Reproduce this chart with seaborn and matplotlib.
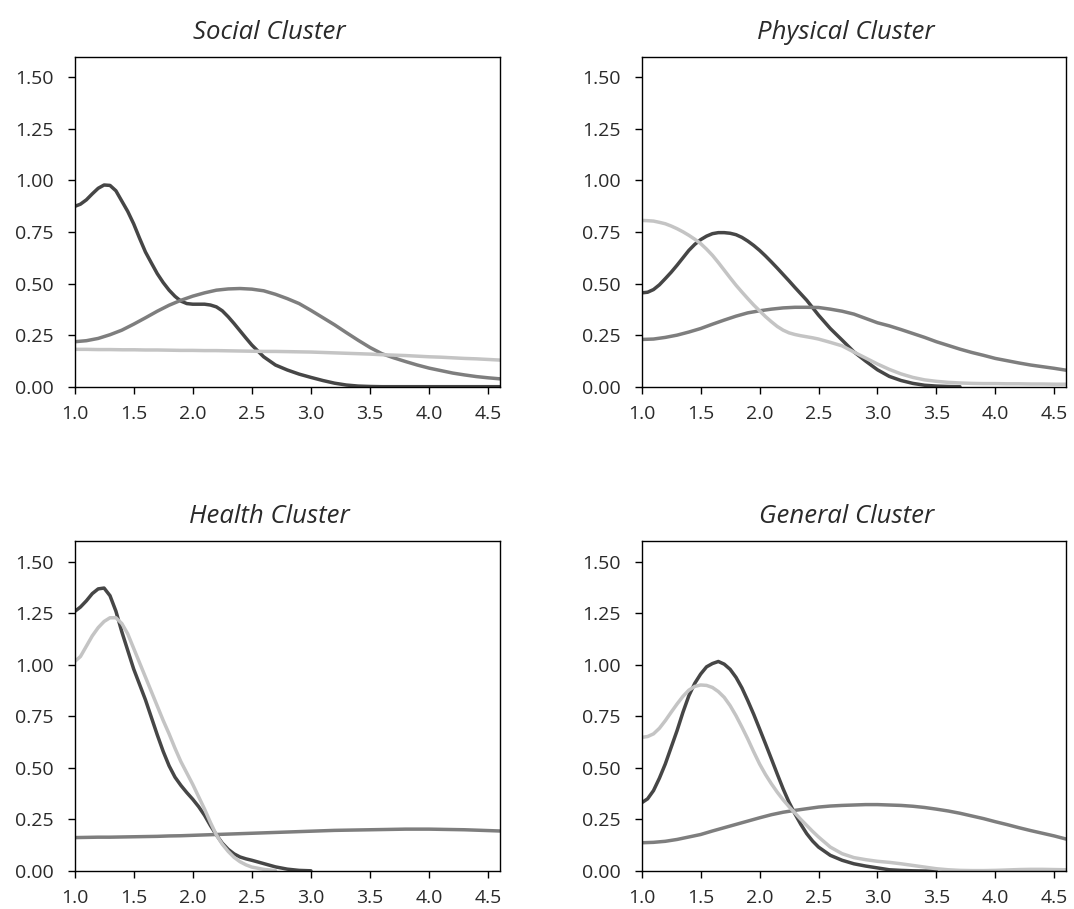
import matplotlib
matplotlib.use("Agg")
import matplotlib.pyplot as plt
import pandas as pd
import seaborn as sns

# sampling grids
X_GRID = [1.0, 1.1, 1.2, 1.3, 1.4, 1.5, 1.6, 1.7, 1.8, 1.9,
          2.0, 2.1, 2.2, 2.3, 2.4, 2.5, 2.6, 2.7, 2.8, 2.9,
          3.0, 3.1, 3.2, 3.3, 3.4, 3.5, 3.6, 3.7, 3.8, 3.9,
          4.0, 4.1, 4.2, 4.3, 4.4, 4.5, 4.6]
# finer steps on the left half for the peaked curves
X_FINE = [1.0, 1.05, 1.1, 1.15, 1.2, 1.25, 1.3, 1.35, 1.4, 1.45,
          1.5, 1.55, 1.6, 1.65, 1.7, 1.75, 1.8, 1.85, 1.9, 1.95,
          2.0, 2.05, 2.1, 2.15, 2.2, 2.25, 2.3, 2.35, 2.4, 2.45,
          2.5, 2.6, 2.7, 2.8, 2.9, 3.0, 3.1, 3.2, 3.3, 3.4,
          3.5, 3.6, 3.7, 3.8, 3.9, 4.0, 4.1, 4.2, 4.3, 4.4,
          4.5, 4.6]

TITLES = ["Social Cluster", "Physical Cluster", "Health Cluster", "General Cluster"]
GROUPS = ["dark", "mid", "light"]
GROUP_COLORS = {"dark": "#464646", "mid": "#7e7e7e", "light": "#c4c4c4"}

X_TICKS = [1.0, 1.5, 2.0, 2.5, 3.0, 3.5, 4.0, 4.5]
Y_TICKS = [0.0, 0.25, 0.50, 0.75, 1.00, 1.25, 1.50]

# Social cluster
social_dark = [0.874, 0.885, 0.906, 0.935, 0.962, 0.978, 0.976, 0.950, 0.900, 0.850,
               0.790, 0.720, 0.653, 0.600, 0.548, 0.505, 0.468, 0.438, 0.415, 0.403,
               0.400, 0.400, 0.400, 0.396, 0.387, 0.368, 0.339, 0.306, 0.271, 0.236,
               0.202, 0.145, 0.105, 0.081, 0.061, 0.045, 0.030, 0.017, 0.008, 0.003,
               0.001, 0.0, 0.0, 0.0, 0.0, 0.0, 0.0, 0.0, 0.0, 0.0,
               0.0, 0.0]
social_mid = [0.218, 0.223, 0.234, 0.252, 0.274, 0.303, 0.334, 0.366, 0.395, 0.419,
              0.439, 0.455, 0.468, 0.474, 0.476, 0.473, 0.465, 0.448, 0.427, 0.403,
              0.370, 0.335, 0.300, 0.262, 0.225, 0.190, 0.160, 0.140, 0.122, 0.105,
              0.090, 0.078, 0.066, 0.057, 0.049, 0.043, 0.038]
social_light = [0.181, 0.181, 0.180, 0.180, 0.179, 0.179, 0.178, 0.178, 0.177, 0.176,
                0.176, 0.175, 0.175, 0.174, 0.173, 0.172, 0.171, 0.171, 0.170, 0.169,
                0.168, 0.166, 0.164, 0.162, 0.160, 0.158, 0.155, 0.153, 0.151, 0.148,
                0.145, 0.143, 0.140, 0.137, 0.135, 0.132, 0.129]

# Physical cluster
physical_dark = [0.455, 0.458, 0.471, 0.494, 0.524, 0.555, 0.589, 0.625, 0.661, 0.690,
                 0.713, 0.730, 0.742, 0.747, 0.747, 0.744, 0.737, 0.724, 0.706, 0.685,
                 0.661, 0.634, 0.605, 0.575, 0.544, 0.513, 0.481, 0.450, 0.419, 0.383,
                 0.347, 0.282, 0.226, 0.169, 0.124, 0.082, 0.050, 0.030, 0.016, 0.007,
                 0.003, 0.001, 0.0]
physical_mid = [0.229, 0.231, 0.239, 0.250, 0.265, 0.282, 0.303, 0.323, 0.342, 0.358,
                0.368, 0.376, 0.382, 0.385, 0.385, 0.384, 0.376, 0.366, 0.352, 0.331,
                0.310, 0.295, 0.277, 0.258, 0.239, 0.218, 0.200, 0.182, 0.166, 0.152,
                0.137, 0.126, 0.115, 0.105, 0.097, 0.089, 0.080]
physical_light = [0.806, 0.805, 0.803, 0.797, 0.790, 0.779, 0.766, 0.751, 0.734, 0.715,
                  0.694, 0.667, 0.637, 0.602, 0.565, 0.528, 0.492, 0.459, 0.427, 0.396,
                  0.368, 0.340, 0.315, 0.292, 0.274, 0.261, 0.253, 0.247, 0.242, 0.237,
                  0.231, 0.215, 0.198, 0.168, 0.139, 0.110, 0.084, 0.062, 0.045, 0.033,
                  0.026, 0.021, 0.018, 0.016, 0.015, 0.015, 0.014, 0.014, 0.013, 0.013,
                  0.012, 0.012]

# Health cluster
health_dark = [1.258, 1.280, 1.310, 1.345, 1.368, 1.372, 1.335, 1.260, 1.160, 1.070,
               0.980, 0.905, 0.830, 0.745, 0.660, 0.580, 0.510, 0.455, 0.415, 0.380,
               0.348, 0.312, 0.270, 0.220, 0.175, 0.135, 0.105, 0.083, 0.068, 0.059,
               0.052, 0.036, 0.020, 0.009, 0.003, 0.001]
health_mid = [0.162, 0.163, 0.164, 0.164, 0.165, 0.166, 0.167, 0.168, 0.170, 0.171,
              0.173, 0.175, 0.177, 0.179, 0.181, 0.183, 0.185, 0.187, 0.189, 0.191,
              0.193, 0.195, 0.197, 0.198, 0.199, 0.200, 0.201, 0.202, 0.203, 0.203,
              0.203, 0.202, 0.201, 0.200, 0.198, 0.196, 0.194]
health_light = [1.015, 1.040, 1.090, 1.140, 1.180, 1.210, 1.228, 1.228, 1.200, 1.150,
                1.080, 1.010, 0.940, 0.870, 0.800, 0.730, 0.665, 0.595, 0.530, 0.475,
                0.420, 0.360, 0.300, 0.235, 0.175, 0.130, 0.095, 0.066, 0.045, 0.030,
                0.019, 0.008, 0.002]

# General cluster
general_dark = [0.331, 0.350, 0.390, 0.450, 0.519, 0.600, 0.681, 0.770, 0.850, 0.910,
                0.955, 0.990, 1.006, 1.016, 1.003, 0.978, 0.939, 0.888, 0.826, 0.760,
                0.689, 0.617, 0.544, 0.470, 0.398, 0.333, 0.277, 0.226, 0.181, 0.145,
                0.116, 0.076, 0.052, 0.035, 0.024, 0.015, 0.006, 0.003, 0.001, 0.0,
                0.0]
general_mid = [0.137, 0.139, 0.144, 0.153, 0.165, 0.177, 0.194, 0.210, 0.226, 0.242,
               0.258, 0.273, 0.285, 0.294, 0.302, 0.310, 0.315, 0.318, 0.320, 0.322,
               0.322, 0.320, 0.318, 0.314, 0.308, 0.300, 0.291, 0.280, 0.267, 0.254,
               0.239, 0.225, 0.210, 0.196, 0.183, 0.170, 0.155]
general_light = [0.648, 0.652, 0.665, 0.692, 0.729, 0.770, 0.810, 0.847, 0.877, 0.895,
                 0.902, 0.900, 0.890, 0.870, 0.842, 0.802, 0.753, 0.698, 0.640, 0.578,
                 0.519, 0.468, 0.423, 0.382, 0.345, 0.312, 0.281, 0.250, 0.221, 0.192,
                 0.165, 0.116, 0.084, 0.065, 0.055, 0.047, 0.042, 0.035, 0.027, 0.019,
                 0.011, 0.006, 0.003, 0.002, 0.002, 0.003, 0.005, 0.007, 0.008, 0.008,
                 0.007, 0.006]

# (values, x grid) for dark, mid, light in each panel
PANEL_SERIES = [
    [(social_dark, X_FINE), (social_mid, X_GRID), (social_light, X_GRID)],
    [(physical_dark, X_FINE), (physical_mid, X_GRID), (physical_light, X_FINE)],
    [(health_dark, X_FINE), (health_mid, X_GRID), (health_light, X_FINE)],
    [(general_dark, X_FINE), (general_mid, X_GRID), (general_light, X_FINE)],
]


def panel_frame(series):
    rows = []
    for group, (values, grid) in zip(GROUPS, series):
        for x, y in zip(grid, values):
            rows.append({"x": x, "density": y, "group": group})
    return pd.DataFrame(rows)


sns.set_theme(style="ticks")
plt.rcParams["font.family"] = ["Open Sans", "DejaVu Sans"]
plt.rcParams["axes.linewidth"] = 1.0
plt.rcParams["axes.edgecolor"] = "black"

fig = plt.figure(figsize=(10.74, 9.09), dpi=100)

# [left, bottom, width, height] in figure fractions
positions = [
    [0.0694, 0.5746, 0.3962, 0.3630],
    [0.5975, 0.5746, 0.3951, 0.3630],
    [0.0694, 0.0418, 0.3962, 0.3630],
    [0.5975, 0.0418, 0.3951, 0.3630],
]
title_x = [0.457, 0.482, 0.457, 0.482]

for i, (title, series) in enumerate(zip(TITLES, PANEL_SERIES)):
    ax = fig.add_axes(positions[i])
    df = panel_frame(series)
    sns.lineplot(
        data=df, x="x", y="density", hue="group", hue_order=GROUPS,
        palette=GROUP_COLORS, linewidth=2.5, legend=False, ax=ax,
        estimator=None, sort=False,
    )
    ax.set_xlim(1.0, 4.6)
    ax.set_ylim(0.0, 1.6)
    ax.set_xticks(X_TICKS)
    ax.set_xticklabels([f"{t:.1f}" for t in X_TICKS])
    ax.set_yticks(Y_TICKS)
    ax.set_yticklabels([f"{t:.2f}" for t in Y_TICKS])
    ax.set_xlabel("")
    ax.set_ylabel("")
    ax.tick_params(axis="both", direction="out", length=5, width=1.0,
                   labelsize=14, labelcolor="#2a2a2a", color="black")
    ax.tick_params(axis="y", pad=10)
    ax.tick_params(axis="x", pad=8)
    for spine in ax.spines.values():
        spine.set_visible(True)
        spine.set_color("black")
        spine.set_linewidth(1.0)
    ax.set_title(title, fontsize=18.5, style="italic",
                 color="#2a2a2a", x=title_x[i], pad=13)

fig.savefig("out.png", dpi=100)
